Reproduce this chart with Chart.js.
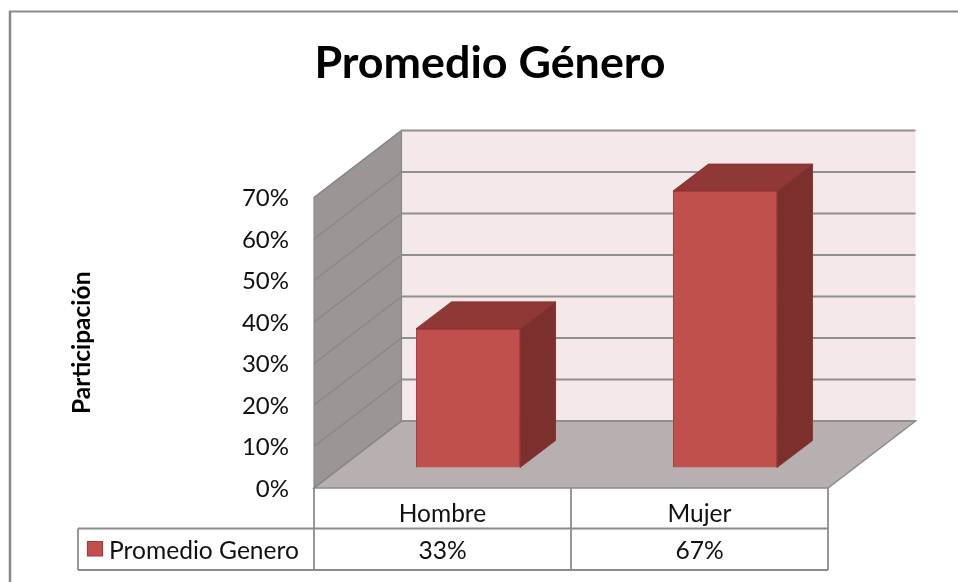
<!DOCTYPE html>
<html lang="es">
<head>
<meta charset="utf-8">
<style>html,body{margin:0;padding:0;background:#fff}canvas{display:block}</style>
<script src="https://cdn.jsdelivr.net/npm/chart.js@4"></script>
</head>
<body>
<canvas id="c" width="958" height="582"></canvas>
<script>
const categories = ['Hombre', 'Mujer'];
const seriesName = 'Promedio Genero';
const seriesValues = [33.4, 66.6];
const chartTitle = 'Promedio Género';
const yTitle = 'Participación';
const yMax = 70;
const yStep = 10;

const FONT = 'Lato, Carlito, Calibri, sans-serif';
const depth = {x: 87.5, y: -67};
const barDepth = {x: 35.5, y: -27};
const barShift = {x: 25.5, y: -20.5};
const GRID = '#8f8f8f';

function poly(ctx, pts, fill, stroke, lw) {
  ctx.beginPath();
  pts.forEach((p, i) => i ? ctx.lineTo(p[0], p[1]) : ctx.moveTo(p[0], p[1]));
  ctx.closePath();
  if (fill) { ctx.fillStyle = fill; ctx.fill(); }
  if (stroke) { ctx.strokeStyle = stroke; ctx.lineWidth = lw || 1; ctx.stroke(); }
}
function line(ctx, x1, y1, x2, y2, color, lw) {
  ctx.beginPath(); ctx.moveTo(x1, y1); ctx.lineTo(x2, y2);
  ctx.strokeStyle = color; ctx.lineWidth = lw; ctx.stroke();
}

const frame3d = {
  id: 'frame3d',
  beforeDatasetsDraw(chart) {
    const {ctx} = chart, x = chart.scales.x, y = chart.scales.y;
    const L = x.left, R = x.right, B = y.getPixelForValue(0), T = y.getPixelForValue(yMax);
    const dx = depth.x, dy = depth.y;
    ctx.save();
    // outer frame
    line(ctx, 9, 11.5, 958, 11.5, '#8a8a8a', 2);
    line(ctx, 10, 11, 10, 582, '#8a8a8a', 2.5);
    // walls and floor
    poly(ctx, [[L + dx, T + dy], [R + dx, T + dy], [R + dx, B + dy], [L + dx, B + dy]], '#f4e8e8');
    poly(ctx, [[L, T], [L + dx, T + dy], [L + dx, B + dy], [L, B]], '#9b9595', '#8b8b8b', 1.2);
    poly(ctx, [[L, B], [L + dx, B + dy], [R + dx, B + dy], [R, B]], '#b8b0b0', '#8b8b8b', 1.5);
    // gridlines from the axis ticks
    y.ticks.forEach(t => {
      const p = y.getPixelForValue(t.value);
      line(ctx, L + dx, p + dy, R + dx, p + dy, GRID, 2);
      line(ctx, L, p, L + dx, p + dy, '#858885', 1.3);
    });
    ctx.restore();
  },
  beforeDatasetDraw(chart) {
    chart.ctx.save();
    chart.ctx.translate(barShift.x, barShift.y);
    const {ctx} = chart;
    chart.getDatasetMeta(0).data.forEach(b => {
      const p = b.getProps(['x', 'y', 'base', 'width'], true);
      const l = p.x - p.width / 2, r = p.x + p.width / 2, t = p.y, bt = p.base;
      const ex = barDepth.x, ey = barDepth.y;
      poly(ctx, [[r, t], [r + ex, t + ey], [r + ex, bt + ey], [r, bt]], '#7b302e', '#8a3836', 1);
      poly(ctx, [[l, t], [l + ex, t + ey], [r + ex, t + ey], [r, t]], '#8f3836', '#8a3230', 1);
    });
  },
  afterDatasetDraw(chart) {
    chart.ctx.restore();
  },
  afterDraw(chart) {
    const {ctx} = chart, x = chart.scales.x, y = chart.scales.y;
    const L = x.left, R = x.right, B = y.getPixelForValue(0);
    const rowMid = 528.5, rowEnd = 570, leg = 78;
    const C = '#8c8c8c';
    ctx.save();
    line(ctx, L, B, L, rowEnd, C, 1.8);
    line(ctx, R, B, R, rowEnd, C, 1.8);
    const cellEdge = (x.getPixelForValue(0) + x.getPixelForValue(1)) / 2;
    line(ctx, cellEdge, B, cellEdge, rowEnd, C, 1.8);
    line(ctx, leg, rowMid, R, rowMid, C, 1.8);
    line(ctx, leg, rowEnd, R, rowEnd, C, 1.8);
    line(ctx, leg, rowMid, leg, rowEnd, C, 1.8);
    // legend key
    poly(ctx, [[87.5, 541.5], [102.5, 541.5], [102.5, 556], [87.5, 556]], '#c0504d', '#a33c3a', 1.2);
    ctx.fillStyle = '#111';
    ctx.font = '24.6px ' + FONT;
    ctx.textBaseline = 'middle';
    ctx.textAlign = 'left';
    ctx.fillText(seriesName, 109, 551);
    ctx.textAlign = 'center';
    seriesValues.forEach((v, i) => {
      ctx.fillText(Math.round(v) + '%', x.getPixelForValue(i), 551);
    });
    ctx.restore();
  }
};

new Chart(document.getElementById('c'), {
  type: 'bar',
  data: {
    labels: categories,
    datasets: [{
      label: seriesName,
      data: seriesValues,
      backgroundColor: '#c0504d',
      borderColor: '#a33c3a',
      borderWidth: 1,
      categoryPercentage: 1,
      barPercentage: 0.405,
      clip: false
    }]
  },
  plugins: [frame3d],
  options: {
    responsive: false,
    animation: false,
    layout: {padding: {left: 22, right: 0, top: 0, bottom: 0}},
    plugins: {
      legend: {display: false},
      tooltip: {enabled: false},
      title: {
        display: true,
        text: chartTitle,
        color: '#000',
        font: {family: FONT, size: 44.8, weight: 'bold', lineHeight: 1.2},
        padding: {top: 37, bottom: 106.74}
      }
    },
    scales: {
      x: {
        grid: {display: false, drawTicks: false},
        border: {display: false},
        ticks: {color: '#111', font: {family: FONT, size: 24.5}, padding: 11, maxRotation: 0},
        afterFit(s) { s.height = 94; }
      },
      y: {
        min: 0,
        max: yMax,
        grid: {display: false, drawTicks: false},
        border: {display: false},
        ticks: {stepSize: yStep, color: '#111', font: {family: FONT, size: 24}, padding: 25,
                labelOffset: 1, callback: v => v + '%'},
        title: {display: true, text: yTitle, color: '#000',
                font: {family: FONT, size: 24.5, weight: 'bold'}, padding: {top: 45, bottom: 0}},
        afterFit(s) { s.width = 292; }
      },
      spacer: {
        position: 'right',
        min: 0,
        max: yMax,
        grid: {display: false, drawTicks: false},
        border: {display: false},
        ticks: {display: false},
        afterFit(s) { s.width = 130; }
      }
    }
  }
});
</script>
</body>
</html>
